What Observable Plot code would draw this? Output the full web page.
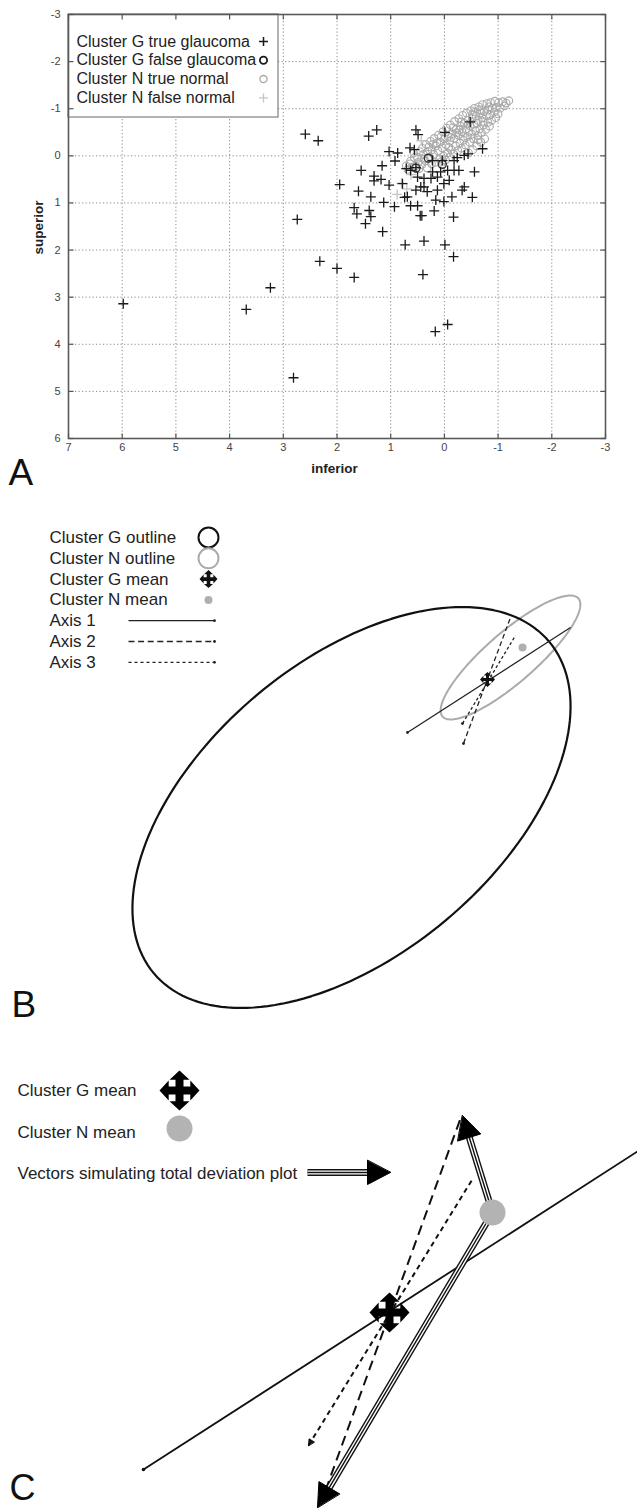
<!DOCTYPE html>
<html><head><meta charset="utf-8">
<script src="https://cdn.jsdelivr.net/npm/d3@7"></script>
<script src="https://cdn.jsdelivr.net/npm/@observablehq/plot@0.6"></script>
<style>
body{margin:0;background:#fff;}
#fig{width:637px;}
#fig svg{display:block;}
</style></head><body><div id="fig"></div>
<script>
// ---------- Panel A data ----------
const xTicksA = [7,6,5,4,3,2,1,0,-1,-2,-3];
const yTicksA = [-3,-2,-1,0,1,2,3,4,5,6];
const legendALabels = ["Cluster G true glaucoma","Cluster G false glaucoma","Cluster N true normal","Cluster N false normal"];
const axisLabelsA = ["inferior","superior"];

const gTrue = [
[2.59,-0.46],[2.35,-0.32],[1.26,-0.55],[1.41,-0.42],[0.53,-0.55],[0.49,-0.45],[-0.01,-0.50],[-0.48,-0.72],
[1.03,-0.09],[0.87,-0.06],[0.64,-0.17],[0.56,-0.13],[-0.71,-0.15],[0.92,0.11],[1.16,0.21],[1.55,0.31],
[1.31,0.43],[1.31,0.53],[1.18,0.50],[1.95,0.61],[1.03,0.62],[0.71,0.27],[0.63,0.31],[0.53,0.25],
[0.22,0.34],[0.07,0.34],[-0.06,0.31],[-0.18,0.31],[-0.27,0.31],[-0.44,-0.04],[-0.37,-0.01],[-0.24,0.04],
[-0.56,0.34],[-0.37,0.66],[-0.33,0.73],[-0.52,0.88],[-0.14,0.87],[0.01,0.97],[0.16,0.94],[0.13,0.73],
[0.32,0.76],[0.38,0.66],[0.50,0.45],[0.38,0.48],[0.25,0.48],[0.13,0.45],[0.69,0.87],[0.74,0.88],
[0.63,1.06],[0.50,1.06],[0.45,1.27],[0.42,1.27],[0.93,1.08],[1.13,0.99],[1.37,0.87],[1.60,0.75],
[1.68,1.10],[1.63,1.23],[1.40,1.16],[1.37,1.29],[1.47,1.44],[1.15,1.61],[0.19,1.17],[-0.17,1.30],
[0.73,1.89],[0.38,1.81],[-0.01,1.89],[-0.17,2.14],[2.32,2.24],[2.00,2.39],[1.68,2.58],[0.40,2.52],
[0.78,0.59],[0.53,0.73],[0.44,0.66],[0.01,0.59],[-0.09,0.52],[0.04,0.10],[-0.18,0.10],[0.22,0.10],
[2.74,1.35],[3.24,2.80],[3.69,3.26],[5.98,3.14],[2.81,4.71],[0.17,3.73],[-0.06,3.58]
];
const gFalse = [[0.53,0.26],[0.04,0.18],[0.30,0.05]];
const nFalse = [[0.43,-0.32],[0.80,0.58],[0.88,0.82],[0.62,0.40],[0.70,0.70]];
const nTrue = [
[0.71,0.21],[0.68,0.29],[0.63,0.11],[0.60,0.24],[0.64,0.17],[0.56,0.04],[0.53,0.21],[0.57,-0.06],[0.49,0.14],[0.46,-0.09],[0.50,0.03],[0.47,0.27],
[0.41,-0.16],[0.38,0.07],[0.42,0.19],[0.39,-0.03],[0.34,-0.24],[0.31,-0.09],[0.35,0.11],[0.32,0.26],[0.26,-0.31],[0.23,-0.13],[0.27,0.04],[0.24,0.17],
[0.19,-0.37],[0.16,-0.21],[0.20,-0.03],[0.17,0.14],[0.11,-0.44],[0.08,-0.29],[0.12,-0.11],[0.09,0.07],[0.03,-0.51],[0.00,-0.36],[0.04,-0.17],[0.01,0.01],[0.05,0.12],
[-0.04,-0.59],[-0.07,-0.41],[-0.03,-0.23],[-0.06,-0.06],[-0.02,0.09],[-0.11,-0.66],[-0.14,-0.47],[-0.10,-0.31],[-0.13,-0.13],[-0.09,0.03],
[-0.19,-0.73],[-0.22,-0.56],[-0.18,-0.37],[-0.21,-0.21],[-0.17,-0.04],[-0.27,-0.79],[-0.30,-0.63],[-0.26,-0.44],[-0.29,-0.27],[-0.25,-0.11],
[-0.34,-0.86],[-0.37,-0.69],[-0.33,-0.51],[-0.36,-0.33],[-0.32,-0.16],[-0.41,-0.91],[-0.44,-0.76],[-0.40,-0.57],[-0.43,-0.41],[-0.39,-0.23],[-0.45,-0.06],
[-0.49,-0.96],[-0.52,-0.79],[-0.48,-0.63],[-0.51,-0.46],[-0.47,-0.29],[-0.53,-0.13],[-0.56,-1.01],[-0.59,-0.84],[-0.55,-0.67],[-0.58,-0.53],[-0.54,-0.36],[-0.60,-0.21],
[-0.64,-1.04],[-0.67,-0.91],[-0.63,-0.75],[-0.66,-0.57],[-0.62,-0.43],[-0.68,-0.29],[-0.71,-1.09],[-0.74,-0.94],[-0.70,-0.81],[-0.73,-0.65],[-0.69,-0.49],[-0.75,-0.36],
[-0.79,-1.11],[-0.82,-0.97],[-0.78,-0.85],[-0.81,-0.71],[-0.77,-0.56],[-0.86,-1.13],[-0.89,-1.01],[-0.85,-0.87],[-0.88,-0.75],[-0.84,-0.63],
[-0.94,-1.16],[-0.97,-1.03],[-0.93,-0.93],[-0.96,-0.81],[-1.01,-1.13],[-1.04,-1.01],[-1.00,-0.89],[-1.09,-1.15],[-1.12,-1.06],[-1.20,-1.17],[-1.15,-1.12],
[0.14,-0.27],[-0.23,-0.49],[-0.46,-0.52],[-0.61,-0.69],[-0.35,-0.41],[-0.08,-0.18],[0.29,-0.19],[-0.57,-0.93],[-0.72,-0.73],[-0.16,-0.60],
[-0.31,-0.72],[-0.52,-0.88],[-0.66,-0.98],[-0.83,-1.04],[0.06,-0.41],[-0.28,-0.55],[-0.44,-0.67],[-0.12,-0.39],[0.21,-0.25],[-0.63,-0.34]
];

// ---------- Panel B data (schematic units, panel-local) ----------
const legendBLabels = ["Cluster G outline","Cluster N outline","Cluster G mean","Cluster N mean","Axis 1","Axis 2","Axis 3"];
const ellipseG = {cx:351, cy:307, a:258, b:147, angle:40};
const ellipseN = {cx:510, cy:157, a:90, b:25, angle:41};
const meanGB = [487,179];
const meanNB = [522,147];
const axesB = [
  {name:"Axis 1", from:[407,232], to:[570,127]},
  {name:"Axis 2", from:[463,243], to:[510,117]},
  {name:"Axis 3", from:[462,223], to:[515,135]}
];

// ---------- Panel C data (schematic units, panel-local) ----------
const legendCLabels = ["Cluster G mean","Cluster N mean","Vectors simulating total deviation plot"];
const meanGC = [389,287];
const meanNC = [492,187];
const axesC = [
  {name:"Axis 1", from:[143,444], to:[640,124]},
  {name:"Axis 2", from:[325,465], to:[460,93]},
  {name:"Axis 3", from:[308,420], to:[473,152]}
];
const vectorsC = [
  {from:[492,187], to:[462,90]},
  {from:[492,187], to:[317,482]}
];
const panelLabels = ["A","B","C"];

// ---------- helpers ----------
const FONT = '"Liberation Sans", Arial, Helvetica, sans-serif';
const plusSym = {draw(ctx,size){const r=Math.sqrt(size/Math.PI);ctx.moveTo(-r,0);ctx.lineTo(r,0);ctx.moveTo(0,-r);ctx.lineTo(0,r);}};
const tickSym = (dx,dy)=>({draw(ctx){ctx.moveTo(0,0);ctx.lineTo(dx,dy);}});
const moveSym = {draw(ctx,size){
  const R=Math.sqrt(size/Math.PI), k=R*0.46, h=R*0.5, w=R*0.2;
  const p=[[0,-R],[h,-R+k],[w,-R+k],[w,-w],[R-k,-w],[R-k,-h],[R,0],[R-k,h],[R-k,w],[w,w],[w,R-k],[h,R-k],
           [0,R],[-h,R-k],[-w,R-k],[-w,w],[-R+k,w],[-R+k,h],[-R,0],[-R+k,-h],[-R+k,-w],[-w,-w],[-w,-R+k],[-h,-R+k]];
  ctx.moveTo(p[0][0],p[0][1]); for(let i=1;i<p.length;i++) ctx.lineTo(p[i][0],p[i][1]); ctx.closePath();
}};
function ellipsePts(e){
  const t=e.angle*Math.PI/180, pts=[];
  for(let i=0;i<360;i+=2){const p=i*Math.PI/180,u=e.a*Math.cos(p),v=e.b*Math.sin(p);
    pts.push({x:e.cx+u*Math.cos(t)-v*Math.sin(t), y:e.cy-(u*Math.sin(t)+v*Math.cos(t))});}
  return pts;
}
function head(from,tip,L,W,id){
  const dx=tip[0]-from[0], dy=tip[1]-from[1], n=Math.hypot(dx,dy), ux=dx/n, uy=dy/n;
  const bx=tip[0]-L*ux, by=tip[1]-L*uy;
  return {base:[bx,by], poly:[{id,x:tip[0],y:tip[1]},{id,x:bx-W*uy,y:by+W*ux},{id,x:bx+W*uy,y:by-W*ux}]};
}
const fig = document.getElementById("fig");

// ---------- Panel A ----------
const sxA = d3.scaleLinear([7,-3],[68,605]);
const syA = d3.scaleLinear([-3,6],[14,438]);
const boxA = {x1:7, x2:sxA.invert(278), y1:-3, y2:syA.invert(117)};
const legRowsA = legendALabels.map((lab,i)=>({lab, i, tx:sxA.invert(76), sx:sxA.invert(263), y:syA.invert(41+18.8*i)}));
const legSymA = [
  {symbol:plusSym, r:4.5, stroke:"#1a1a1a", sw:1.5},
  {symbol:"circle", r:3.6, stroke:"#1a1a1a", sw:1.8},
  {symbol:"circle", r:3.6, stroke:"#a9a9a9", sw:1.3},
  {symbol:plusSym, r:4.5, stroke:"#c4c4c4", sw:1.3}
];
const marksA = [
  Plot.ruleX(xTicksA, {x:d=>d, stroke:"#8a8a8a", strokeDasharray:"1.2,2.3", strokeWidth:1}),
  Plot.ruleY(yTicksA, {y:d=>d, stroke:"#8a8a8a", strokeDasharray:"1.2,2.3", strokeWidth:1}),
  Plot.dot(nTrue, {x:d=>d[0], y:d=>d[1], r:3.8, stroke:"#aaaaaa", strokeWidth:1.1, fill:"none"}),
  Plot.dot(nFalse, {x:d=>d[0], y:d=>d[1], symbol:plusSym, r:5, stroke:"#c4c4c4", strokeWidth:1.3, fill:"none"}),
  Plot.dot(gFalse, {x:d=>d[0], y:d=>d[1], r:4, stroke:"#333", strokeWidth:1.4, fill:"none"}),
  Plot.dot(gTrue, {x:d=>d[0], y:d=>d[1], symbol:plusSym, r:5, stroke:"#1a1a1a", strokeWidth:1.3, fill:"none"}),
  Plot.rect([boxA], {x1:"x1", x2:"x2", y1:"y1", y2:"y2", fill:"white", stroke:"#666", strokeWidth:1}),
  Plot.frame({stroke:"#5a5a5a", strokeWidth:1.6}),
  Plot.dot(xTicksA, {x:d=>d, y:()=>6, symbol:tickSym(0,-5), r:1, stroke:"#555", strokeWidth:1.2}),
  Plot.dot(xTicksA, {x:d=>d, y:()=>-3, symbol:tickSym(0,5), r:1, stroke:"#555", strokeWidth:1.2}),
  Plot.dot(yTicksA, {x:()=>7, y:d=>d, symbol:tickSym(5,0), r:1, stroke:"#555", strokeWidth:1.2}),
  Plot.dot(yTicksA, {x:()=>-3, y:d=>d, symbol:tickSym(-5,0), r:1, stroke:"#555", strokeWidth:1.2}),
  Plot.text(legRowsA, {x:"tx", y:"y", text:"lab", textAnchor:"start", lineAnchor:"middle", fontSize:16, fill:"#222"}),
  ...legRowsA.map((row,i)=>Plot.dot([row], {x:"sx", y:"y", symbol:legSymA[i].symbol, r:legSymA[i].r, stroke:legSymA[i].stroke, strokeWidth:legSymA[i].sw, fill:"none"})),
  Plot.text([axisLabelsA[0]], {x:()=>sxA.invert(334), y:()=>syA.invert(468), text:d=>d, fontSize:13.5, fontWeight:"bold", fill:"#222", lineAnchor:"middle"}),
  Plot.text([axisLabelsA[1]], {x:()=>sxA.invert(38), y:()=>syA.invert(227), text:d=>d, rotate:-90, fontSize:13.5, fontWeight:"bold", fill:"#222", lineAnchor:"middle"}),
  Plot.text([panelLabels[0]], {x:()=>sxA.invert(8), y:()=>syA.invert(484), text:d=>d, textAnchor:"start", lineAnchor:"bottom", fontSize:37, fill:"#111"})
];
const plotA = Plot.plot({
  width:637, height:500, marginLeft:68, marginRight:32, marginTop:14, marginBottom:62,
  style:{fontFamily:FONT, fontSize:"11px", color:"#444", background:"white", overflow:"visible"},
  x:{domain:[7,-3], ticks:xTicksA, tickSize:0, tickPadding:5, tickFormat:d=>String(d), label:null},
  y:{domain:[-3,6], reverse:true, ticks:yTicksA, tickSize:0, tickPadding:8, tickFormat:d=>String(d), label:null},
  marks:marksA
});
fig.appendChild(plotA);

// ---------- Panel B ----------
const HB = 525;
const legBX = 49, legBSymX = 208, legBY0 = 37, legBStep = 20.8, legBLine = [128,214];
const rowsB = legendBLabels.map((lab,i)=>({lab, x:legBX, y:legBY0+legBStep*i}));
const axisStylesB = [{dash:null}, {dash:"5,3"}, {dash:"3,2.4"}];
const legAxisStylesB = [{dash:null}, {dash:"6,3.6"}, {dash:"3,3"}];
const marksB = [
  Plot.line(ellipsePts(ellipseN), {x:"x", y:"y", curve:"linear-closed", stroke:"#ababab", strokeWidth:2, fill:"none"}),
  Plot.line(ellipsePts(ellipseG), {x:"x", y:"y", curve:"linear-closed", stroke:"#111", strokeWidth:2.2, fill:"none"}),
  ...axesB.map((a,i)=>Plot.link([a], {x1:d=>d.from[0], y1:d=>d.from[1], x2:d=>d.to[0], y2:d=>d.to[1], stroke:"#222", strokeWidth:1.3, strokeDasharray:axisStylesB[i].dash})),
  Plot.dot(axesB, {x:d=>d.from[0], y:d=>d.from[1], r:1.4, fill:"#222"}),
  Plot.dot([meanNB], {x:d=>d[0], y:d=>d[1], r:4, fill:"#b0b0b0"}),
  Plot.dot([meanGB], {x:d=>d[0], y:d=>d[1], symbol:moveSym, r:7.5, fill:"#111", stroke:"none"}),
  Plot.text(rowsB, {x:"x", y:"y", text:"lab", textAnchor:"start", lineAnchor:"middle", fontSize:17, fill:"#222"}),
  Plot.dot([rowsB[0]], {x:()=>legBSymX, y:"y", r:10, stroke:"#111", strokeWidth:2, fill:"none"}),
  Plot.dot([rowsB[1]], {x:()=>legBSymX, y:"y", r:10, stroke:"#ababab", strokeWidth:2, fill:"none"}),
  Plot.dot([rowsB[2]], {x:()=>legBSymX, y:"y", symbol:moveSym, r:9, fill:"#111", stroke:"none"}),
  Plot.dot([rowsB[3]], {x:()=>legBSymX, y:"y", r:4, fill:"#b0b0b0"}),
  ...[4,5,6].map((k,i)=>Plot.link([rowsB[k]], {x1:()=>legBLine[0], x2:()=>legBLine[1], y1:"y", y2:"y", stroke:"#222", strokeWidth:1.3, strokeDasharray:legAxisStylesB[i].dash})),
  Plot.dot([rowsB[4],rowsB[5],rowsB[6]], {x:()=>legBLine[1], y:"y", r:1.4, fill:"#222"}),
  Plot.text([panelLabels[1]], {x:()=>11, y:()=>516, text:d=>d, textAnchor:"start", lineAnchor:"bottom", fontSize:37, fill:"#111"})
];
const plotB = Plot.plot({
  width:637, height:HB, margin:0,
  style:{fontFamily:FONT, background:"white", overflow:"visible"},
  x:{domain:[0,637], range:[0,637], axis:null},
  y:{domain:[0,HB], range:[0,HB], axis:null},
  marks:marksB
});
fig.appendChild(plotB);

// ---------- Panel C ----------
const HC = 483;
const legCX = 17, legCSymX = 179, legCY = [65,107,148];
const rowsC = legendCLabels.map((lab,i)=>({lab, x:legCX, y:legCY[i]}));
const legArrow = {from:[307,147], to:[390,147]};
const arrowsC = vectorsC.map((v,i)=>({...v, h:head(v.from, v.to, 23, 12, "v"+i)}));
const legHead = head(legArrow.from, legArrow.to, 23, 12, "leg");
const tripleSegs = [
  ...arrowsC.map(a=>({x1:a.from[0], y1:a.from[1], x2:a.h.base[0], y2:a.h.base[1]})),
  {x1:legArrow.from[0], y1:legArrow.from[1], x2:legHead.base[0], y2:legHead.base[1]}
];
const headPolys = [...arrowsC.flatMap(a=>a.h.poly), ...legHead.poly];
const smallHead = head(axesC[2].to, axesC[2].from, 6, 3, "s");
const axisStylesC = [{dash:null, w:1.8}, {dash:"10,6", w:2}, {dash:"5,4", w:2}];
const marksC = [
  ...axesC.map((a,i)=>Plot.link([a], {x1:d=>d.from[0], y1:d=>d.from[1], x2:d=>d.to[0], y2:d=>d.to[1], stroke:"#111", strokeWidth:axisStylesC[i].w, strokeDasharray:axisStylesC[i].dash})),
  Plot.dot([axesC[0]], {x:d=>d.from[0], y:d=>d.from[1], r:1.8, fill:"#111"}),
  Plot.line(smallHead.poly, {x:"x", y:"y", curve:"linear-closed", fill:"#111", stroke:"#111", strokeWidth:1}),
  Plot.link(tripleSegs, {x1:"x1", y1:"y1", x2:"x2", y2:"y2", stroke:"#111", strokeWidth:7, strokeLinecap:"butt"}),
  Plot.link(tripleSegs, {x1:"x1", y1:"y1", x2:"x2", y2:"y2", stroke:"white", strokeWidth:4.2, strokeLinecap:"butt"}),
  Plot.link(tripleSegs, {x1:"x1", y1:"y1", x2:"x2", y2:"y2", stroke:"#111", strokeWidth:1.4, strokeLinecap:"butt"}),
  Plot.line(headPolys, {x:"x", y:"y", z:"id", curve:"linear-closed", fill:"#000", stroke:"#000", strokeWidth:1}),
  Plot.dot([meanNC], {x:d=>d[0], y:d=>d[1], r:13, fill:"#b3b3b3"}),
  Plot.dot([meanGC], {x:d=>d[0], y:d=>d[1], symbol:moveSym, r:20, fill:"#000", stroke:"none"}),
  Plot.text(rowsC, {x:"x", y:"y", text:"lab", textAnchor:"start", lineAnchor:"middle", fontSize:17, fill:"#222"}),
  Plot.dot([rowsC[0]], {x:()=>legCSymX, y:"y", symbol:moveSym, r:20, fill:"#000", stroke:"none"}),
  Plot.dot([rowsC[1]], {x:()=>legCSymX, y:()=>103, r:13, fill:"#b3b3b3"}),
  Plot.text([panelLabels[2]], {x:()=>9, y:()=>474, text:d=>d, textAnchor:"start", lineAnchor:"bottom", fontSize:36, fill:"#111"})
];
const plotC = Plot.plot({
  width:637, height:HC, margin:0,
  style:{fontFamily:FONT, background:"white", overflow:"visible"},
  x:{domain:[0,637], range:[0,637], axis:null},
  y:{domain:[0,HC], range:[0,HC], axis:null},
  marks:marksC
});
fig.appendChild(plotC);
</script>
</body></html>
